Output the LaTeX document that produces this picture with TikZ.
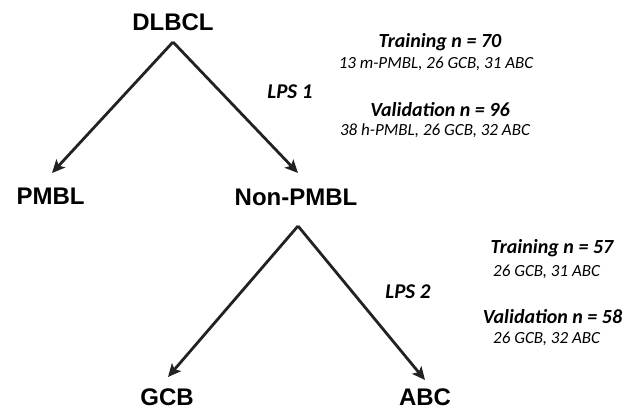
\documentclass[tikz,border=0pt]{standalone}
\usepackage{fontspec}
\newfontfamily\hdfont{Liberation Sans}
\newfontfamily\calfont{Carlito}
\usetikzlibrary{arrows.meta}
\definecolor{ink}{HTML}{222222}
\begin{document}
\begin{tikzpicture}[x=1pt,y=-1pt,
  lbl/.style={font=\hdfont\bfseries\fontsize{24}{26}\selectfont, inner sep=0pt, text=black},
  lps/.style={font=\calfont\bfseries\itshape\fontsize{21}{23}\selectfont, inner sep=0pt, text=black},
  head/.style={font=\calfont\bfseries\itshape\fontsize{20}{22}\selectfont, inner sep=0pt, text=black},
  sub/.style={font=\calfont\itshape\fontsize{17}{19}\selectfont, inner sep=0pt, text=black},
  arr/.style={draw=ink, line width=2.8pt, -{Stealth[length=13pt,width=12pt,inset=3pt]}, line join=miter}]
\useasboundingbox (0,0) rectangle (639,410);
\node[lbl] (dl) at (173,22) {DLBCL};
\node[lbl] (pm) at (50.5,196.5) {PMBL};
\node[lbl] (np) at (296,197) {Non-PMBL};
\node[lbl] (gcb) at (167,397) {GCB};
\node[lbl] (abc) at (425,397.5) {ABC};
\coordinate (a1) at (173,42);
\coordinate (a1l) at (52,173);
\coordinate (a1r) at (298,173);
\coordinate (a2) at (298,226);
\coordinate (a2l) at (168,377);
\coordinate (a2r) at (425,380);
\draw[arr] (a1) -- (a1l);
\draw[arr] (a1) -- (a1r);
\draw[arr] (a2) -- (a2l);
\draw[arr] (a2) -- (a2r);
\node[lps] (l1) at (290,92) {LPS 1};
\node[lps] (l2) at (408,292) {LPS 2};
\node[head] (t1) at (440,42) {Training n = 70};
\node[sub] (t1s) at (436,64) {13 m-PMBL, 26 GCB, 31 ABC};
\node[head] (v1) at (440,110) {Validation n = 96};
\node[sub] (v1s) at (435,131) {38 h-PMBL, 26 GCB, 32 ABC};
\node[head] (t2) at (552,248) {Training n = 57};
\node[sub, anchor=west] (t2s) at (493,272) {26 GCB, 31 ABC};
\node[head] (v2) at (552.5,317) {Validation n = 58};
\node[sub, anchor=west] (v2s) at (493,339) {26 GCB, 32 ABC};
\end{tikzpicture}
\end{document}
